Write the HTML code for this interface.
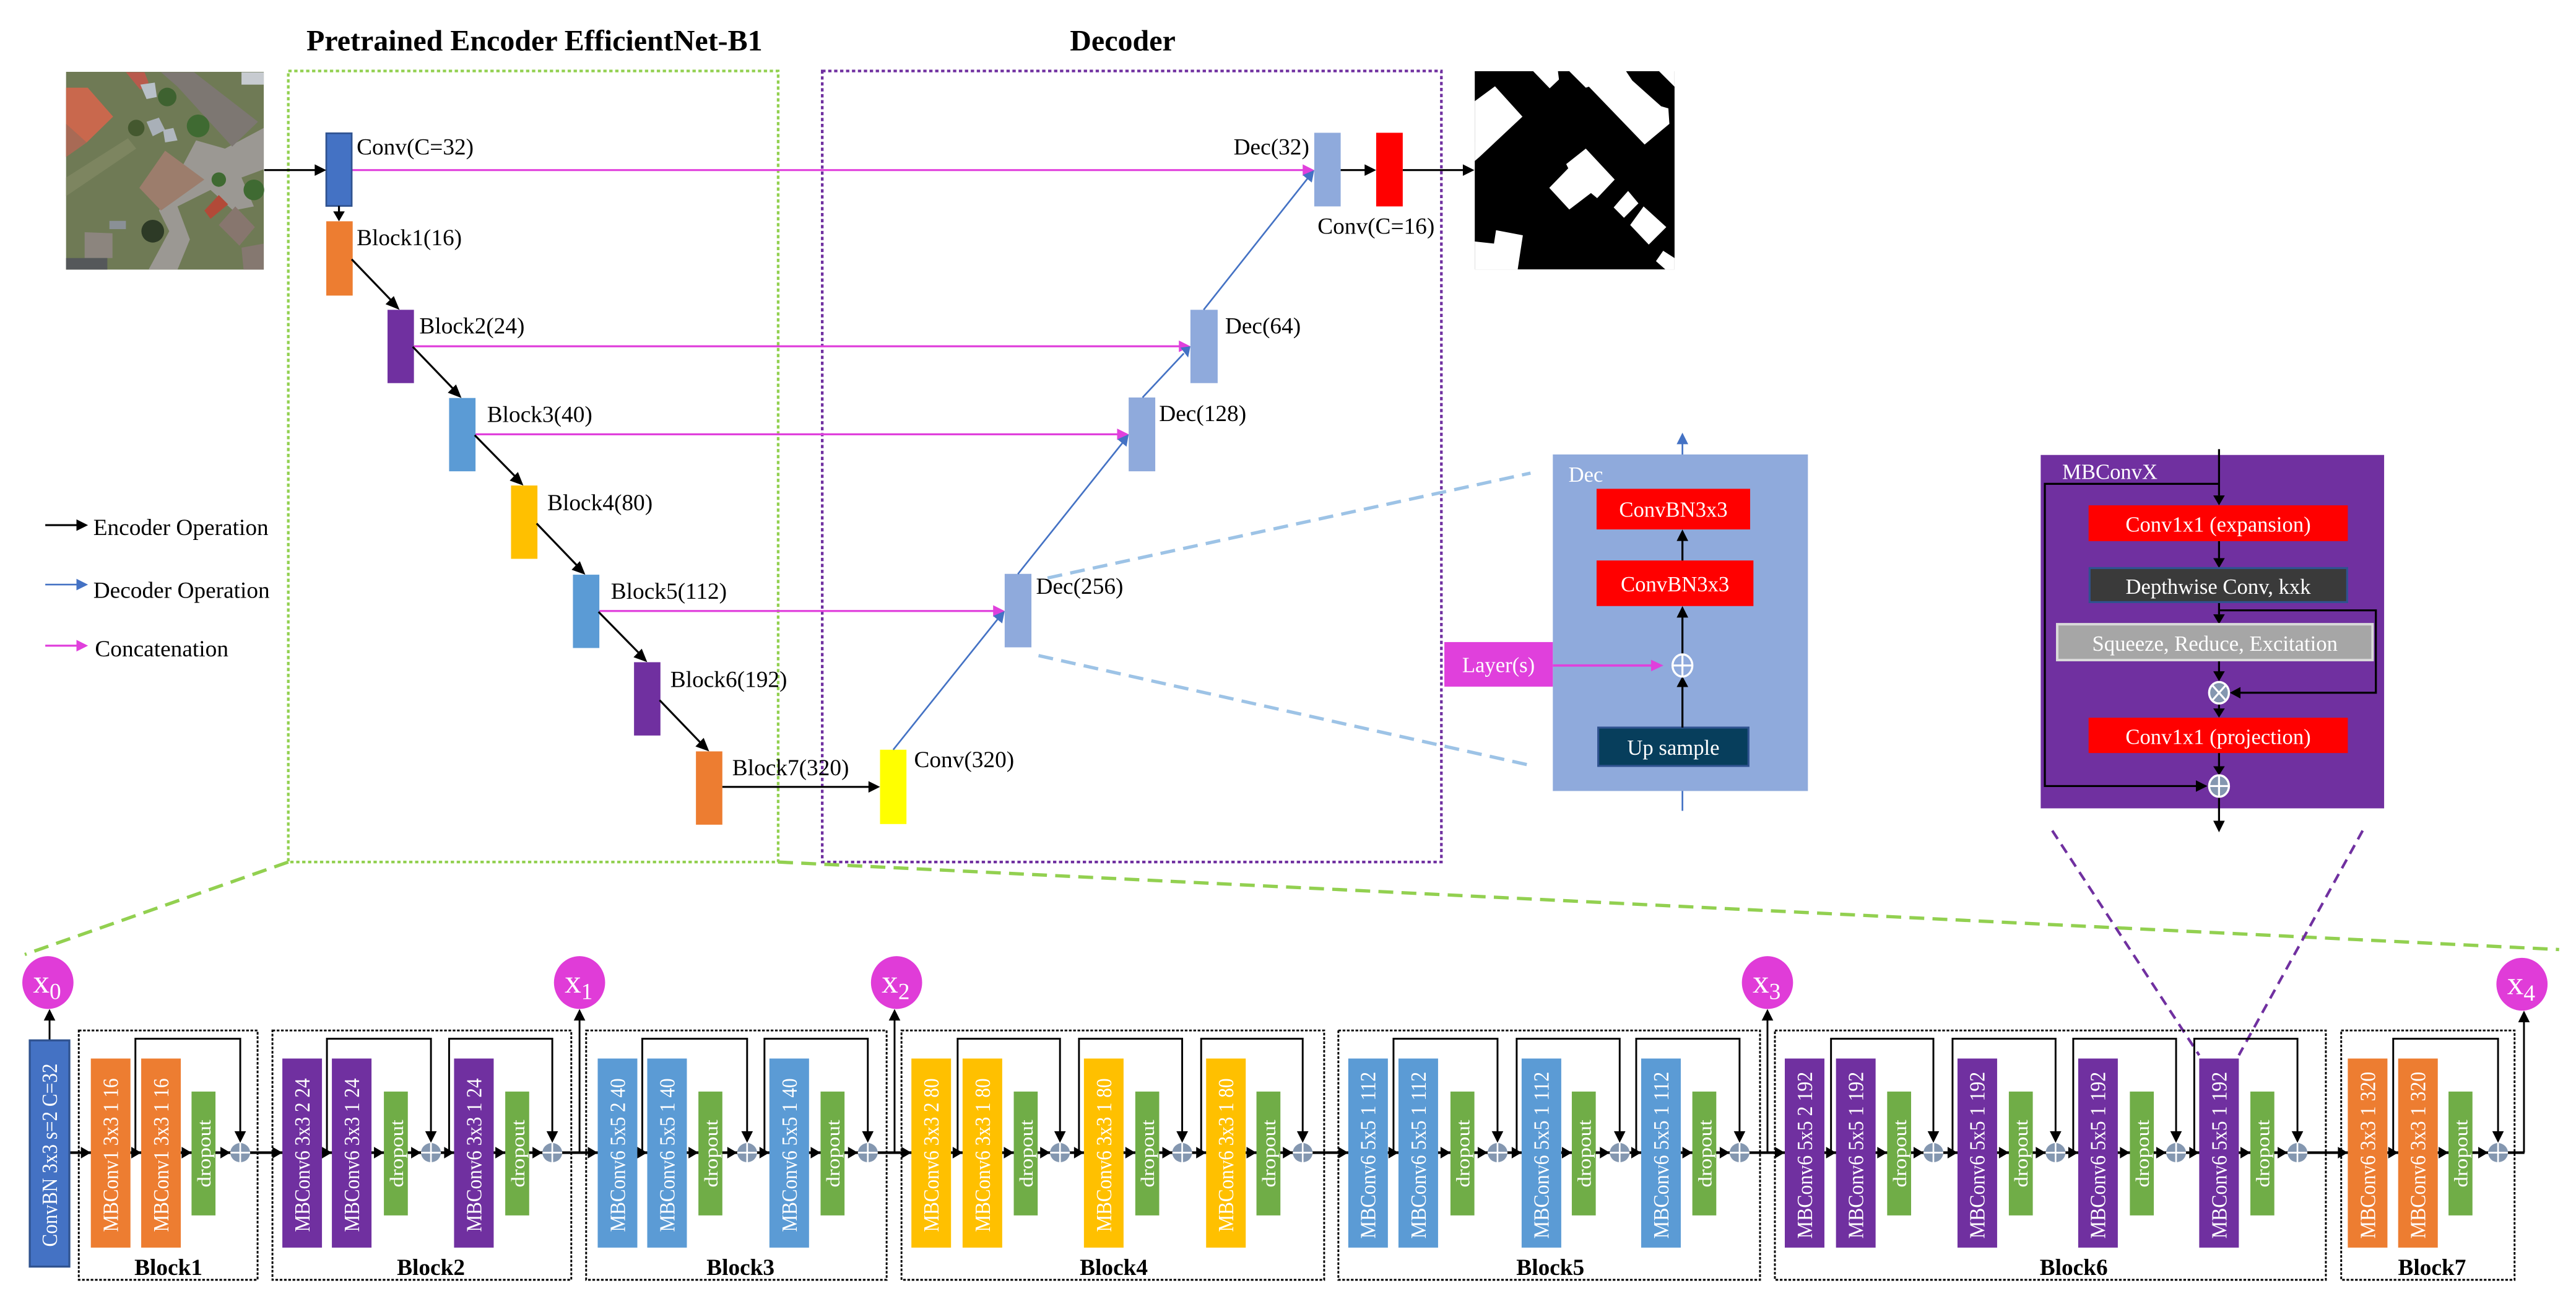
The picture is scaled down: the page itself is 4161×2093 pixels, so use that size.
<!DOCTYPE html>
<html><head><meta charset="utf-8"><style>
html,body{margin:0;padding:0;background:#fff;}
svg{display:block;}
text{font-family:"Liberation Serif",serif;}
.mb{font-size:13px;fill:#fff;}
.dr{font-size:11.5px;fill:#fff;}
.lb{font-size:14px;fill:#000;}
.bl{font-size:14px;font-weight:bold;fill:#000;}
.wt{fill:#fff;font-size:13px;}
</style></head><body>
<svg width="4161" height="2093" viewBox="0 0 1560.2 784.8" xmlns="http://www.w3.org/2000/svg">
<rect x="0" y="0" width="1560.2" height="784.8" fill="#fff"/>

<text x="323.7" y="30.5" text-anchor="middle" style="font-size:18px;font-weight:bold">Pretrained Encoder EfficientNet-B1</text>
<text x="680" y="30.5" text-anchor="middle" style="font-size:18px;font-weight:bold">Decoder</text>

<!-- Satellite photo -->
<g transform="translate(37.5,37.5) scale(0.125)">
<rect x="20" y="48" width="958" height="958" fill="#6f7a55"/>
<polygon points="20,560 320,370 360,420 20,650" fill="#7d8560"/>
<polygon points="650,380 790,420 978,320 978,520 870,560 930,700 830,720 720,620 560,700 620,860 560,1006 420,1006 520,820 470,720" fill="#9b9893"/>
<polygon points="20,125 125,125 248,265 120,390 20,460" fill="#c9684d"/>
<polygon points="20,300 120,390 20,460" fill="#a86a55"/>
<polygon points="480,50 640,50 950,290 825,410 560,120" fill="#7d7772"/>
<polygon points="310,50 400,50 420,100 380,135" fill="#b85a4c"/>
<polygon points="380,110 450,100 460,170 410,180" fill="#b8c0c8"/>
<polygon points="410,290 470,270 500,330 440,360" fill="#a9b0b8"/>
<polygon points="490,330 540,320 560,380 500,390" fill="#b0b7be"/>
<polygon points="375,610 500,430 690,570 480,720" fill="#9c7d6c"/>
<polygon points="690,720 760,645 805,690 720,760" fill="#b24a38"/>
<polygon points="760,790 840,700 935,800 860,890" fill="#87766e"/>
<polygon points="110,825 245,830 245,950 110,950" fill="#8c857e"/>
<polygon points="870,900 978,880 978,1006 880,1006" fill="#857870"/>
<rect x="20" y="950" width="200" height="56" fill="#55585a"/>
<circle cx="510" cy="170" r="45" fill="#3e6230"/>
<circle cx="660" cy="310" r="55" fill="#3f6a32"/>
<circle cx="440" cy="820" r="55" fill="#2d3a26"/>
<circle cx="930" cy="620" r="50" fill="#3f6a32"/>
<circle cx="360" cy="320" r="40" fill="#44582f"/>
<circle cx="760" cy="570" r="35" fill="#3f6a32"/>
<rect x="870" y="50" width="108" height="60" fill="#c7cbd0"/>
<rect x="230" y="770" width="80" height="40" fill="#8a9096"/>
</g>
<!-- Mask -->
<g transform="translate(888.6,37.5) scale(0.125)">
<rect x="37" y="45" width="968" height="960" fill="#000"/>
<g fill="#fff">
<polygon points="37,190 135,118 268,265 60,460 37,480"/>
<polygon points="320,45 440,45 445,85 400,128"/>
<polygon points="495,45 770,45 800,90 940,215 975,225 980,300 860,400 590,120 575,125"/>
<polygon points="930,45 1005,120 1005,45"/>
<polygon points="575,420 715,570 630,660 600,635 495,715 398,610 490,515 480,495"/>
<polygon points="780,625 830,685 760,755 710,705 740,670"/>
<polygon points="855,700 965,800 880,885 790,790"/>
<polygon points="37,870 130,880 140,815 270,840 245,1005 37,1005"/>
<polygon points="950,915 1005,950 1005,1005 960,1005 915,965"/>
</g>
</g>

<rect x="174.6" y="43" width="296.7" height="479" fill="none" stroke="#92D050" stroke-width="1.6" stroke-dasharray="2,1.6"/>
<rect x="498" y="43" width="375" height="479" fill="none" stroke="#7030A0" stroke-width="1.6" stroke-dasharray="2,1.6"/>

<line x1="174.6" y1="522" x2="15" y2="578" stroke="#92D050" stroke-width="2" stroke-dasharray="9,5"/>
<line x1="471.3" y1="522" x2="1550" y2="575" stroke="#92D050" stroke-width="2" stroke-dasharray="9,5"/>

<g stroke="#E040DC" stroke-width="1.2" fill="none">
<line x1="213" y1="103" x2="791" y2="103"/>
<line x1="250.8" y1="209.7" x2="716" y2="209.7"/>
<line x1="288" y1="263" x2="678.6" y2="263"/>
<line x1="363" y1="370" x2="603.5" y2="370"/>
</g>
<path fill="#E040DC" d="M789 99.5 L796 103 L789 106.5Z M714 206.2 L721 209.7 L714 213.2Z M676.6 259.5 L683.6 263 L676.6 266.5Z M601.5 366.5 L608.5 370 L601.5 373.5Z"/>

<rect x="197.6" y="80.7" width="15.4" height="44" fill="#4472C4" stroke="#2F528F" stroke-width="1"/>
<rect x="197.6" y="134" width="16" height="45" fill="#ED7D31"/>
<rect x="234.7" y="187.6" width="16" height="44.4" fill="#7030A0"/>
<rect x="272" y="241" width="16" height="44.4" fill="#5B9BD5"/>
<rect x="309.5" y="294" width="16" height="44.4" fill="#FFC000"/>
<rect x="347" y="348" width="16" height="44.4" fill="#5B9BD5"/>
<rect x="384" y="401" width="16" height="44.4" fill="#7030A0"/>
<rect x="421.5" y="455" width="16" height="44.4" fill="#ED7D31"/>
<text class="lb" x="216" y="93.6">Conv(C=32)</text>
<text class="lb" x="216" y="148.4">Block1(16)</text>
<text class="lb" x="254" y="202">Block2(24)</text>
<text class="lb" x="295" y="255.5">Block3(40)</text>
<text class="lb" x="331.5" y="309">Block4(80)</text>
<text class="lb" x="370" y="362.5">Block5(112)</text>
<text class="lb" x="406" y="416">Block6(192)</text>
<text class="lb" x="443.5" y="469.5">Block7(320)</text>

<g stroke="#000" stroke-width="1.2" fill="none">
<line x1="160" y1="103" x2="192" y2="103"/>
<line x1="205.3" y1="124.7" x2="205.3" y2="129"/>
<line x1="213" y1="157" x2="238" y2="183"/>
<line x1="250" y1="210" x2="275.5" y2="236.5"/>
<line x1="287.5" y1="263.5" x2="313" y2="289.5"/>
<line x1="325" y1="317" x2="350.5" y2="343.5"/>
<line x1="362.5" y1="370.5" x2="388" y2="396.5"/>
<line x1="399.5" y1="424" x2="425" y2="450.5"/>
<line x1="437.5" y1="476.5" x2="528" y2="476.5"/>
<line x1="812" y1="103" x2="828" y2="103"/>
<line x1="849.6" y1="103" x2="887" y2="103"/>
<line x1="27.4" y1="318" x2="47" y2="318"/>
</g>
<g fill="#000">
<path d="M190.6 99.5 L197.6 103 L190.6 106.5Z M201.8 128 L205.3 134 L208.8 128Z M826.5 99.5 L833.5 103 L826.5 106.5Z M886 99.5 L893 103 L886 106.5Z M526 473 L533 476.5 L526 480Z M46.3 314.5 L53.3 318 L46.3 321.5Z"/>
<path d="M233.5 184.2 L242 187.6 L238.5 179.3Z M271.2 237.8 L279.5 241 L276.2 232.8Z M308.7 291 L317 294 L313.7 285.8Z M346.2 345 L354.5 348 L351.2 339.8Z M383.7 398 L392 401 L388.7 392.8Z M421.2 452 L429.5 455 L426.2 446.8Z"/>
</g>

<rect x="533" y="454" width="16" height="45" fill="#FFFF00"/>
<rect x="608.5" y="347.5" width="16.2" height="44.5" fill="#8FAADC"/>
<rect x="683.6" y="240.7" width="16.1" height="44.7" fill="#8FAADC"/>
<rect x="721" y="187.6" width="16.5" height="44.4" fill="#8FAADC"/>
<rect x="796" y="80.4" width="16" height="44.6" fill="#8FAADC"/>
<rect x="833.5" y="80.4" width="16.1" height="44.6" fill="#FF0000"/>
<text class="lb" x="553.6" y="464.6">Conv(320)</text>
<text class="lb" x="627.5" y="359.5">Dec(256)</text>
<text class="lb" x="702" y="255">Dec(128)</text>
<text class="lb" x="742" y="202">Dec(64)</text>
<text class="lb" x="793" y="93.6" text-anchor="end">Dec(32)</text>
<text class="lb" x="798" y="141.5">Conv(C=16)</text>

<g stroke="#4472C4" stroke-width="1" fill="none">
<line x1="541" y1="454" x2="605" y2="374"/>
<line x1="616.5" y1="347.6" x2="680" y2="268"/>
<line x1="692" y1="240.7" x2="717" y2="214"/>
<line x1="729" y1="187.6" x2="792" y2="108"/>
<line x1="27.4" y1="354" x2="47" y2="354"/>
<line x1="1019" y1="296" x2="1019" y2="268"/>
<line x1="1019" y1="491" x2="1019" y2="471"/>
</g>
<path fill="#4472C4" d="M601.5 373 L608.5 370 L607 377.5Z M676.8 266 L683.6 263 L682.3 270.5Z M715 210.5 L721 209.7 L719.6 216.5Z M789 106 L796 103 L794.5 110.5Z M46.3 350.5 L53.3 354 L46.3 357.5Z M1015.5 269 L1019 262 L1022.5 269Z M1015.5 471.5 L1019 464.5 L1022.5 471.5Z"/>
<line x1="27.4" y1="391" x2="47" y2="391" stroke="#E040DC" stroke-width="1.2"/>
<path d="M46.3 387.5 L53.3 391 L46.3 394.5Z" fill="#E040DC"/>
<text class="lb" x="56.5" y="324">Encoder Operation</text>
<text class="lb" x="56.5" y="362">Decoder Operation</text>
<text class="lb" x="57.5" y="397.5">Concatenation</text>

<line x1="634.5" y1="350" x2="927" y2="286.5" stroke="#9DC3E6" stroke-width="2" stroke-dasharray="9,5"/>
<line x1="629" y1="397" x2="927" y2="463.5" stroke="#9DC3E6" stroke-width="2" stroke-dasharray="9,5"/>

<!-- Dec detail -->
<rect x="940.5" y="275.2" width="154.5" height="203.8" fill="#8FAADC"/>
<text class="wt" x="950" y="291.8">Dec</text>
<rect x="967" y="296" width="93" height="24.6" fill="#FF0000"/>
<text class="wt" x="1013.5" y="313" text-anchor="middle">ConvBN3x3</text>
<rect x="967" y="339.4" width="95" height="27.6" fill="#FF0000"/>
<text class="wt" x="1014.5" y="358" text-anchor="middle">ConvBN3x3</text>
<rect x="968" y="440.6" width="91" height="23.2" fill="#073E5C" stroke="#2F528F" stroke-width="1.2"/>
<text class="wt" x="1013.5" y="457" text-anchor="middle">Up sample</text>
<rect x="874.8" y="388.8" width="65.7" height="27" fill="#E040DC"/>
<text class="wt" x="907.6" y="407" text-anchor="middle">Layer(s)</text>
<line x1="940.5" y1="403" x2="1002" y2="403" stroke="#E040DC" stroke-width="1.4"/>
<path d="M1000 399.5 L1007.5 403 L1000 406.5Z" fill="#E040DC"/>
<g stroke="#000" stroke-width="1.2">
<line x1="1019" y1="440.6" x2="1019" y2="414"/>
<line x1="1019" y1="396" x2="1019" y2="372"/>
<line x1="1019" y1="339.4" x2="1019" y2="325"/>
</g>
<path d="M1015.5 416 L1019 409.5 L1022.5 416Z M1015.5 374 L1019 367 L1022.5 374Z M1015.5 327.6 L1019 320.6 L1022.5 327.6Z" fill="#000"/>
<ellipse cx="1019" cy="403" rx="6" ry="6.7" fill="#8FAADC" stroke="#fff" stroke-width="1.3"/>
<line x1="1013" y1="403" x2="1025" y2="403" stroke="#fff" stroke-width="1.2"/>
<line x1="1019" y1="396.3" x2="1019" y2="409.7" stroke="#fff" stroke-width="1.2"/>

<!-- MBConvX -->
<line x1="1243" y1="503" x2="1332" y2="639" stroke="#7030A0" stroke-width="1.6" stroke-dasharray="6,4"/>
<line x1="1431" y1="503" x2="1356" y2="639" stroke="#7030A0" stroke-width="1.6" stroke-dasharray="6,4"/>
<rect x="1236" y="275.5" width="208" height="214" fill="#7030A0"/>
<text class="wt" x="1249" y="290">MBConvX</text>
<g stroke="#000" stroke-width="1.2" fill="none">
<line x1="1344" y1="272" x2="1344" y2="300"/>
<path d="M1344 293 H1238.5 V476 H1331"/>
<line x1="1344" y1="327.7" x2="1344" y2="338"/>
<line x1="1344" y1="364.6" x2="1344" y2="372"/>
<path d="M1344 369.6 H1439 V419.5 H1357"/>
<line x1="1344" y1="399.7" x2="1344" y2="407"/>
<line x1="1344" y1="425.5" x2="1344" y2="429"/>
<line x1="1344" y1="456" x2="1344" y2="464"/>
<line x1="1344" y1="483" x2="1344" y2="498"/>
</g>
<path d="M1340.5 300 L1344 306 L1347.5 300Z M1340.5 338 L1344 344 L1347.5 338Z M1340.5 372 L1344 378 L1347.5 372Z M1340.5 406.5 L1344 412.5 L1347.5 406.5Z M1340.5 429 L1344 434.6 L1347.5 429Z M1340.5 464 L1344 469.5 L1347.5 464Z M1340.5 497 L1344 504 L1347.5 497Z M1357 416 L1350.5 419.5 L1357 423Z M1330 472.5 L1337 476 L1330 479.5Z" fill="#000"/>
<rect x="1265" y="306" width="157" height="21.7" fill="#FF0000"/>
<text class="wt" x="1343.5" y="322" text-anchor="middle">Conv1x1 (expansion)</text>
<rect x="1265.6" y="344" width="156" height="20.6" fill="#3A3A3A" stroke="#2F528F" stroke-width="1.2"/>
<text class="wt" x="1343.5" y="359.5" text-anchor="middle">Depthwise Conv, kxk</text>
<rect x="1246" y="378" width="191" height="21.7" fill="#A6A6A6" stroke="#D9D9D9" stroke-width="1.5"/>
<text class="wt" x="1341.5" y="394" text-anchor="middle">Squeeze, Reduce, Excitation</text>
<rect x="1265" y="434.6" width="157" height="21.4" fill="#FF0000"/>
<text class="wt" x="1343.5" y="450.5" text-anchor="middle">Conv1x1 (projection)</text>
<ellipse cx="1344" cy="419.5" rx="6" ry="6.5" fill="#8497B0" stroke="#fff" stroke-width="1.3"/>
<line x1="1340" y1="415" x2="1348" y2="424" stroke="#fff" stroke-width="1.2"/>
<line x1="1348" y1="415" x2="1340" y2="424" stroke="#fff" stroke-width="1.2"/>
<ellipse cx="1344" cy="476" rx="6" ry="6.5" fill="#8497B0" stroke="#fff" stroke-width="1.3"/>
<line x1="1338" y1="476" x2="1350" y2="476" stroke="#fff" stroke-width="1.2"/>
<line x1="1344" y1="469.5" x2="1344" y2="482.5" stroke="#fff" stroke-width="1.2"/>

<!-- ================= Bottom row ================= -->
<g fill="none" stroke="#000" stroke-width="1.1" stroke-dasharray="1.6,1">
<rect x="47.7" y="624" width="108.3" height="151"/>
<rect x="165" y="624" width="181" height="151"/>
<rect x="355" y="624" width="182" height="151"/>
<rect x="546" y="624" width="256" height="151"/>
<rect x="810.6" y="624" width="255.4" height="151"/>
<rect x="1075" y="624" width="333.7" height="151"/>
<rect x="1418" y="624" width="105" height="151"/>
</g>
<text class="bl" x="102" y="772" text-anchor="middle">Block1</text>
<text class="bl" x="261" y="772" text-anchor="middle">Block2</text>
<text class="bl" x="448.5" y="772" text-anchor="middle">Block3</text>
<text class="bl" x="674.6" y="772" text-anchor="middle">Block4</text>
<text class="bl" x="939" y="772" text-anchor="middle">Block5</text>
<text class="bl" x="1256" y="772" text-anchor="middle">Block6</text>
<text class="bl" x="1473" y="772" text-anchor="middle">Block7</text>

<line x1="42" y1="698" x2="1529" y2="698" stroke="#000" stroke-width="1.6"/>
<g stroke="#000" stroke-width="1.1" fill="none">
<path d="M82 698V629H145.5V686"/>
<path d="M198 698V629H261V686"/>
<path d="M272 698V629H334.5V686"/>
<path d="M389 698V629H452.5V686"/>
<path d="M463 698V629H525.6V686"/>
<path d="M580 698V629H642V686"/>
<path d="M653.5 698V629H716V686"/>
<path d="M727.5 698V629H789V686"/>
<path d="M844 698V629H907V686"/>
<path d="M918.6 698V629H981V686"/>
<path d="M991 698V629H1053.6V686"/>
<path d="M1109 698V629H1171V686"/>
<path d="M1182.6 698V629H1245V686"/>
<path d="M1255.7 698V629H1318V686"/>
<path d="M1329 698V629H1391.5V686"/>
<path d="M1449.5 698V629H1513V686"/>
<line x1="30" y1="630" x2="30" y2="616"/>
<line x1="351" y1="698" x2="351" y2="616"/>
<line x1="541.8" y1="698" x2="541.8" y2="616"/>
<line x1="1070.5" y1="698" x2="1070.5" y2="616"/>
<line x1="1528.7" y1="698" x2="1528.7" y2="617"/>
</g>
<path fill="#000" d="M142 685L145.5 692L149 685Z M257.5 685L261 692L264.5 685Z M331 685L334.5 692L338 685Z M449 685L452.5 692L456 685Z M522.1 685L525.6 692L529.1 685Z M638.5 685L642 692L645.5 685Z M712.5 685L716 692L719.5 685Z M785.5 685L789 692L792.5 685Z M903.5 685L907 692L910.5 685Z M977.5 685L981 692L984.5 685Z M1050.1 685L1053.6 692L1057.1 685Z M1167.5 685L1171 692L1174.5 685Z M1241.5 685L1245 692L1248.5 685Z M1314.5 685L1318 692L1321.5 685Z M1388 685L1391.5 692L1395 685Z M1509.5 685L1513 692L1516.5 685Z
M26.5 618L30 611L33.5 618Z M347.5 618L351 611L354.5 618Z M538.3 618L541.8 611L545.3 618Z M1067 618L1070.5 611L1074 618Z M1525.2 619L1528.7 612L1532.2 619Z"/>

<rect x="18" y="630" width="24" height="137" fill="#4472C4" stroke="#2F528F" stroke-width="1.2"/>
<text class="mb" transform="translate(34.5,755) rotate(-90)" textLength="111" lengthAdjust="spacingAndGlyphs">ConvBN 3x3 s=2 C=32</text>

<g>
<rect x="55" y="641" width="24" height="114.5" fill="#ED7D31"/>
<rect x="85.5" y="641" width="24" height="114.5" fill="#ED7D31"/>
<rect x="171" y="641" width="24" height="114.5" fill="#7030A0"/>
<rect x="201" y="641" width="24" height="114.5" fill="#7030A0"/>
<rect x="275" y="641" width="24" height="114.5" fill="#7030A0"/>
<rect x="362" y="641" width="24" height="114.5" fill="#5B9BD5"/>
<rect x="392" y="641" width="24" height="114.5" fill="#5B9BD5"/>
<rect x="466" y="641" width="24" height="114.5" fill="#5B9BD5"/>
<rect x="552" y="641" width="24" height="114.5" fill="#FFC000"/>
<rect x="583" y="641" width="24" height="114.5" fill="#FFC000"/>
<rect x="656.5" y="641" width="24" height="114.5" fill="#FFC000"/>
<rect x="730.5" y="641" width="24" height="114.5" fill="#FFC000"/>
<rect x="816.6" y="641" width="24" height="114.5" fill="#5B9BD5"/>
<rect x="847" y="641" width="24" height="114.5" fill="#5B9BD5"/>
<rect x="921.6" y="641" width="24" height="114.5" fill="#5B9BD5"/>
<rect x="994" y="641" width="24" height="114.5" fill="#5B9BD5"/>
<rect x="1081" y="641" width="24" height="114.5" fill="#7030A0"/>
<rect x="1112" y="641" width="24" height="114.5" fill="#7030A0"/>
<rect x="1185.6" y="641" width="24" height="114.5" fill="#7030A0"/>
<rect x="1258.7" y="641" width="24" height="114.5" fill="#7030A0"/>
<rect x="1332" y="641" width="24" height="114.5" fill="#7030A0"/>
<rect x="1422" y="641" width="24" height="114.5" fill="#ED7D31"/>
<rect x="1452.5" y="641" width="24" height="114.5" fill="#ED7D31"/>
</g>
<g>
<text class="mb" transform="translate(71.5,746) rotate(-90)" textLength="93" lengthAdjust="spacingAndGlyphs">MBConv1 3x3 1 16</text>
<text class="mb" transform="translate(102,746) rotate(-90)" textLength="93" lengthAdjust="spacingAndGlyphs">MBConv1 3x3 1 16</text>
<text class="mb" transform="translate(187.5,746) rotate(-90)" textLength="93" lengthAdjust="spacingAndGlyphs">MBConv6 3x3 2 24</text>
<text class="mb" transform="translate(217.5,746) rotate(-90)" textLength="93" lengthAdjust="spacingAndGlyphs">MBConv6 3x3 1 24</text>
<text class="mb" transform="translate(291.5,746) rotate(-90)" textLength="93" lengthAdjust="spacingAndGlyphs">MBConv6 3x3 1 24</text>
<text class="mb" transform="translate(378.5,746) rotate(-90)" textLength="93" lengthAdjust="spacingAndGlyphs">MBConv6 5x5 2 40</text>
<text class="mb" transform="translate(408.5,746) rotate(-90)" textLength="93" lengthAdjust="spacingAndGlyphs">MBConv6 5x5 1 40</text>
<text class="mb" transform="translate(482.5,746) rotate(-90)" textLength="93" lengthAdjust="spacingAndGlyphs">MBConv6 5x5 1 40</text>
<text class="mb" transform="translate(568.5,746) rotate(-90)" textLength="93" lengthAdjust="spacingAndGlyphs">MBConv6 3x3 2 80</text>
<text class="mb" transform="translate(599.5,746) rotate(-90)" textLength="93" lengthAdjust="spacingAndGlyphs">MBConv6 3x3 1 80</text>
<text class="mb" transform="translate(673,746) rotate(-90)" textLength="93" lengthAdjust="spacingAndGlyphs">MBConv6 3x3 1 80</text>
<text class="mb" transform="translate(747,746) rotate(-90)" textLength="93" lengthAdjust="spacingAndGlyphs">MBConv6 3x3 1 80</text>
<text class="mb" transform="translate(833,750) rotate(-90)" textLength="101" lengthAdjust="spacingAndGlyphs">MBConv6 5x5 1 112</text>
<text class="mb" transform="translate(863.5,750) rotate(-90)" textLength="101" lengthAdjust="spacingAndGlyphs">MBConv6 5x5 1 112</text>
<text class="mb" transform="translate(938,750) rotate(-90)" textLength="101" lengthAdjust="spacingAndGlyphs">MBConv6 5x5 1 112</text>
<text class="mb" transform="translate(1010.5,750) rotate(-90)" textLength="101" lengthAdjust="spacingAndGlyphs">MBConv6 5x5 1 112</text>
<text class="mb" transform="translate(1097.5,750) rotate(-90)" textLength="101" lengthAdjust="spacingAndGlyphs">MBConv6 5x5 2 192</text>
<text class="mb" transform="translate(1128.5,750) rotate(-90)" textLength="101" lengthAdjust="spacingAndGlyphs">MBConv6 5x5 1 192</text>
<text class="mb" transform="translate(1202,750) rotate(-90)" textLength="101" lengthAdjust="spacingAndGlyphs">MBConv6 5x5 1 192</text>
<text class="mb" transform="translate(1275,750) rotate(-90)" textLength="101" lengthAdjust="spacingAndGlyphs">MBConv6 5x5 1 192</text>
<text class="mb" transform="translate(1348.5,750) rotate(-90)" textLength="101" lengthAdjust="spacingAndGlyphs">MBConv6 5x5 1 192</text>
<text class="mb" transform="translate(1438.5,750) rotate(-90)" textLength="101" lengthAdjust="spacingAndGlyphs">MBConv6 3x3 1 320</text>
<text class="mb" transform="translate(1469,750) rotate(-90)" textLength="101" lengthAdjust="spacingAndGlyphs">MBConv6 3x3 1 320</text>
</g>

<g fill="#70AD47">
<rect x="116" y="661" width="14.5" height="75"/>
<rect x="232.5" y="661" width="14.5" height="75"/>
<rect x="306" y="661" width="14.5" height="75"/>
<rect x="423" y="661" width="14.5" height="75"/>
<rect x="497" y="661" width="14.5" height="75"/>
<rect x="614" y="661" width="14.5" height="75"/>
<rect x="687.6" y="661" width="14.5" height="75"/>
<rect x="761" y="661" width="14.5" height="75"/>
<rect x="878.5" y="661" width="14.5" height="75"/>
<rect x="952" y="661" width="14.5" height="75"/>
<rect x="1025" y="661" width="14.5" height="75"/>
<rect x="1143" y="661" width="14.5" height="75"/>
<rect x="1216.7" y="661" width="14.5" height="75"/>
<rect x="1290" y="661" width="14.5" height="75"/>
<rect x="1363" y="661" width="14.5" height="75"/>
<rect x="1483" y="661" width="14.5" height="75"/>
</g>
<g>
<text class="dr" transform="translate(127.5,719) rotate(-90)" textLength="41" lengthAdjust="spacingAndGlyphs">dropout</text>
<text class="dr" transform="translate(244,719) rotate(-90)" textLength="41" lengthAdjust="spacingAndGlyphs">dropout</text>
<text class="dr" transform="translate(317.5,719) rotate(-90)" textLength="41" lengthAdjust="spacingAndGlyphs">dropout</text>
<text class="dr" transform="translate(434.5,719) rotate(-90)" textLength="41" lengthAdjust="spacingAndGlyphs">dropout</text>
<text class="dr" transform="translate(508.5,719) rotate(-90)" textLength="41" lengthAdjust="spacingAndGlyphs">dropout</text>
<text class="dr" transform="translate(625.5,719) rotate(-90)" textLength="41" lengthAdjust="spacingAndGlyphs">dropout</text>
<text class="dr" transform="translate(699,719) rotate(-90)" textLength="41" lengthAdjust="spacingAndGlyphs">dropout</text>
<text class="dr" transform="translate(772.5,719) rotate(-90)" textLength="41" lengthAdjust="spacingAndGlyphs">dropout</text>
<text class="dr" transform="translate(890,719) rotate(-90)" textLength="41" lengthAdjust="spacingAndGlyphs">dropout</text>
<text class="dr" transform="translate(963.5,719) rotate(-90)" textLength="41" lengthAdjust="spacingAndGlyphs">dropout</text>
<text class="dr" transform="translate(1036.5,719) rotate(-90)" textLength="41" lengthAdjust="spacingAndGlyphs">dropout</text>
<text class="dr" transform="translate(1154.5,719) rotate(-90)" textLength="41" lengthAdjust="spacingAndGlyphs">dropout</text>
<text class="dr" transform="translate(1228,719) rotate(-90)" textLength="41" lengthAdjust="spacingAndGlyphs">dropout</text>
<text class="dr" transform="translate(1301.5,719) rotate(-90)" textLength="41" lengthAdjust="spacingAndGlyphs">dropout</text>
<text class="dr" transform="translate(1374.5,719) rotate(-90)" textLength="41" lengthAdjust="spacingAndGlyphs">dropout</text>
<text class="dr" transform="translate(1494.5,719) rotate(-90)" textLength="41" lengthAdjust="spacingAndGlyphs">dropout</text>
</g>

<path fill="#000" d="M49 694.5L55 698L49 701.5Z M79.5 694.5L85.5 698L79.5 701.5Z M110 694.5L116 698L110 701.5Z M133.5 694.5L139.5 698L133.5 701.5Z M165 694.5L171 698L165 701.5Z M195 694.5L201 698L195 701.5Z M226.5 694.5L232.5 698L226.5 701.5Z M249 694.5L255 698L249 701.5Z M269 694.5L275 698L269 701.5Z M300 694.5L306 698L300 701.5Z M322.5 694.5L328.5 698L322.5 701.5Z M356 694.5L362 698L356 701.5Z M386 694.5L392 698L386 701.5Z M417 694.5L423 698L417 701.5Z M440.5 694.5L446.5 698L440.5 701.5Z M460 694.5L466 698L460 701.5Z M491 694.5L497 698L491 701.5Z M513.6 694.5L519.6 698L513.6 701.5Z M546 694.5L552 698L546 701.5Z M577 694.5L583 698L577 701.5Z M608 694.5L614 698L608 701.5Z M630 694.5L636 698L630 701.5Z M650.5 694.5L656.5 698L650.5 701.5Z M681.6 694.5L687.6 698L681.6 701.5Z M704 694.5L710 698L704 701.5Z M724.5 694.5L730.5 698L724.5 701.5Z M755 694.5L761 698L755 701.5Z M777 694.5L783 698L777 701.5Z M810.6 694.5L816.6 698L810.6 701.5Z M841 694.5L847 698L841 701.5Z M872.5 694.5L878.5 698L872.5 701.5Z M895 694.5L901 698L895 701.5Z M915.6 694.5L921.6 698L915.6 701.5Z M946 694.5L952 698L946 701.5Z M969 694.5L975 698L969 701.5Z M988 694.5L994 698L988 701.5Z M1019 694.5L1025 698L1019 701.5Z M1041.6 694.5L1047.6 698L1041.6 701.5Z M1075 694.5L1081 698L1075 701.5Z M1106 694.5L1112 698L1106 701.5Z M1137 694.5L1143 698L1137 701.5Z M1159 694.5L1165 698L1159 701.5Z M1179.6 694.5L1185.6 698L1179.6 701.5Z M1210.7 694.5L1216.7 698L1210.7 701.5Z M1233 694.5L1239 698L1233 701.5Z M1252.7 694.5L1258.7 698L1252.7 701.5Z M1284 694.5L1290 698L1284 701.5Z M1306 694.5L1312 698L1306 701.5Z M1326 694.5L1332 698L1326 701.5Z M1357 694.5L1363 698L1357 701.5Z M1379.5 694.5L1385.5 698L1379.5 701.5Z M1416 694.5L1422 698L1416 701.5Z M1446.5 694.5L1452.5 698L1446.5 701.5Z M1477 694.5L1483 698L1477 701.5Z M1501 694.5L1507 698L1501 701.5Z"/>

<g fill="#8497B0">
<ellipse cx="145.5" cy="698" rx="6" ry="5.8"/><ellipse cx="261" cy="698" rx="6" ry="5.8"/><ellipse cx="334.5" cy="698" rx="6" ry="5.8"/>
<ellipse cx="452.5" cy="698" rx="6" ry="5.8"/><ellipse cx="525.6" cy="698" rx="6" ry="5.8"/><ellipse cx="642" cy="698" rx="6" ry="5.8"/>
<ellipse cx="716" cy="698" rx="6" ry="5.8"/><ellipse cx="789" cy="698" rx="6" ry="5.8"/><ellipse cx="907" cy="698" rx="6" ry="5.8"/>
<ellipse cx="981" cy="698" rx="6" ry="5.8"/><ellipse cx="1053.6" cy="698" rx="6" ry="5.8"/><ellipse cx="1171" cy="698" rx="6" ry="5.8"/>
<ellipse cx="1245" cy="698" rx="6" ry="5.8"/><ellipse cx="1318" cy="698" rx="6" ry="5.8"/><ellipse cx="1391.5" cy="698" rx="6" ry="5.8"/>
<ellipse cx="1513" cy="698" rx="6" ry="5.8"/>
</g>
<path stroke="#fff" stroke-width="1" fill="none" d="M139.5 698h12M145.5 692.2v11.6 M255 698h12M261 692.2v11.6 M328.5 698h12M334.5 692.2v11.6 M446.5 698h12M452.5 692.2v11.6 M519.6 698h12M525.6 692.2v11.6 M636 698h12M642 692.2v11.6 M710 698h12M716 692.2v11.6 M783 698h12M789 692.2v11.6 M901 698h12M907 692.2v11.6 M975 698h12M981 692.2v11.6 M1047.6 698h12M1053.6 692.2v11.6 M1165 698h12M1171 692.2v11.6 M1239 698h12M1245 692.2v11.6 M1312 698h12M1318 692.2v11.6 M1385.5 698h12M1391.5 692.2v11.6 M1507 698h12M1513 692.2v11.6"/>

<g fill="#E03CD8">
<ellipse cx="29" cy="595" rx="15.5" ry="16"/>
<ellipse cx="351" cy="595" rx="15.5" ry="16"/>
<ellipse cx="543" cy="595" rx="15.5" ry="16"/>
<ellipse cx="1070.5" cy="595" rx="15.5" ry="16"/>
<ellipse cx="1527.5" cy="596" rx="15.5" ry="16"/>
</g>
<g fill="#fff" style="font-size:20px">
<text x="20" y="601">x<tspan style="font-size:14px" dy="4">0</tspan></text>
<text x="342" y="601">x<tspan style="font-size:14px" dy="4">1</tspan></text>
<text x="534" y="601">x<tspan style="font-size:14px" dy="4">2</tspan></text>
<text x="1061.5" y="601">x<tspan style="font-size:14px" dy="4">3</tspan></text>
<text x="1518.5" y="602">x<tspan style="font-size:14px" dy="4">4</tspan></text>
</g>
</svg>
</body></html>
